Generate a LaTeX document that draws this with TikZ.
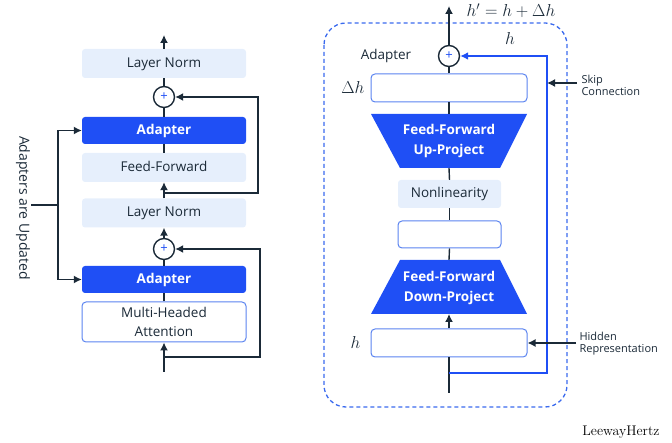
\documentclass[tikz,border=0pt]{standalone}
\usepackage{fontspec}
\setsansfont{Open Sans}
\usetikzlibrary{arrows.meta,positioning}
\definecolor{dark}{HTML}{1B2A38}
\definecolor{bblue}{HTML}{1F4FF5}
\definecolor{lblue}{HTML}{E6EFFC}
\definecolor{bord}{HTML}{5B84F0}
\definecolor{dashc}{HTML}{3A6AEE}
\tikzset{
  conn/.style={draw=dark, line width=1.4pt},
  arr/.style={conn, -{Latex[length=8pt,width=8pt]}},
  barr/.style={draw=bblue, line width=1.6pt, -{Latex[length=8pt,width=8pt]}},
  lightbox/.style={fill=lblue, draw=none, rounded corners=3pt, minimum width=164pt, minimum height=29pt, inner sep=0pt, text height=10pt, text depth=2.5pt, font=\sffamily\fontsize{13.5}{19}\selectfont, text=dark},
  adaptbox/.style={fill=bblue, draw=none, rounded corners=3pt, minimum width=164pt, minimum height=27pt, inner sep=0pt, text height=10pt, text depth=2.5pt, font=\sffamily\bfseries\fontsize{13.5}{19}\selectfont, text=white},
  whitebox/.style={fill=white, draw=bord, line width=1pt, rounded corners=4pt, inner sep=0pt, font=\sffamily\fontsize{13.5}{19}\selectfont, text=dark, align=center},
  plus/.style={circle, draw=dark, line width=1.4pt, fill=white, minimum size=21pt, inner sep=0pt, font=\sffamily\fontsize{13}{13}\selectfont, text=bblue},
  traptext/.style={font=\sffamily\bfseries\fontsize{13.5}{20}\selectfont, text=white, align=center},
  smalllab/.style={font=\sffamily\fontsize{11}{12}\selectfont, text=dark, align=left, anchor=west},
  mlab/.style={font=\fontsize{16.5}{18}\selectfont, text=dark}
}
\begin{document}
\begin{tikzpicture}[x=1pt,y=-1pt]
\useasboundingbox (0,0) rectangle (672,443);
% ---------- left column ----------
\node[lightbox] (ln1) at (164,63.5) {Layer Norm};
\node[plus] (p1) at (164,97) {+};
\node[adaptbox] (ad1) at (164,130.5) {Adapter};
\node[lightbox] (ff) at (164,167.5) {Feed-Forward};
\node[lightbox] (ln2) at (164,213) {Layer Norm};
\node[plus] (p2) at (164,249) {+};
\node[adaptbox] (ad2) at (164,279.5) {Adapter};
\node[whitebox, minimum width=164pt, minimum height=40pt] (mha) at (164,322) {Multi-Headed\\Attention};
\coordinate (top1) at (164,35);
\coordinate (in1) at (164,372);
\coordinate (br1) at (164,193);
\coordinate (br2) at (164,357);
\draw[arr] (ln1.north) -- (top1);
\draw[conn] (p1.north) -- (ln1.south);
\draw[conn] (ad1.north) -- (p1.south);
\draw[conn] (ff.north) -- (ad1.south);
\draw[arr] (ln2.north) -- (ff.south);
\draw[arr] (p2.north) -- (ln2.south);
\draw[conn] (ad2.north) -- (p2.south);
\draw[conn] (mha.north) -- (ad2.south);
\draw[arr] (in1) -- (mha.south);
\draw[arr] (br1) -| (258,97) -- (p1.east);
\draw[arr] (br2) -| (260,249) -- (p2.east);
% side label
\node[rotate=-90, font=\sffamily\fontsize{14}{16}\selectfont, text=dark] (upd) at (23,208) {Adapters are Updated};
\coordinate (bk) at (58,205);
\draw[conn] (31,205) -- (bk);
\draw[arr] (bk) |- (ad1.west);
\draw[arr] (bk) |- (ad2.west);
% ---------- right column ----------
\draw[dashc, line width=1.3pt, dash pattern=on 4pt off 3pt, rounded corners=22pt] (324,23) rectangle (567,407);
\node[plus] (p3) at (449,56) {+};
\node[whitebox, minimum width=156pt, minimum height=28pt] (dh) at (449,88) {};
% up-project trapezoid
\coordinate (upT) at (449,114);
\coordinate (upB) at (449,168);
\fill[bblue] (371,114) -- (527,114) -- (500,168) -- (400,168) -- cycle;
\node[traptext] (up) at (449,141) {Feed-Forward\\Up-Project};
\node[lightbox, minimum width=103pt, minimum height=28pt] (nl) at (449.5,194) {Nonlinearity};
\node[whitebox, minimum width=103pt, minimum height=27pt] (eb) at (449.5,234.5) {};
% down-project trapezoid
\coordinate (dnT) at (449,260);
\coordinate (dnB) at (449,314);
\fill[bblue] (400,260) -- (500,260) -- (527,314) -- (371,314) -- cycle;
\node[traptext] (down) at (449,288) {Feed-Forward\\Down-Project};
\node[whitebox, minimum width=156pt, minimum height=28pt] (hb) at (449,343) {};
\coordinate (top2) at (449,6);
\coordinate (in2) at (449,393);
\coordinate (br3) at (449,373);
\draw[arr] (p3.north) -- (top2);
\draw[conn] (dh.north) -- (p3.south);
\draw[conn] (upT) -- (dh.south);
\draw[conn] (upB) -- (nl.north);
\draw[conn] (nl.south) -- (eb.north);
\draw[conn] (eb.south) -- (dnT);
\draw[arr] (hb.north) -- (dnB);
\draw[conn] (in2) -- (hb.south);
\draw[barr] (br3) -| (547,56) -- (p3.east);
% labels
\node[font=\sffamily\fontsize{13.5}{16}\selectfont, text=dark] (adl) at (386,56) {Adapter};
\node[mlab] (hp) at (511,11) {$h' = h + \Delta h$};
\node[mlab] (hl) at (510,39) {$h$};
\node[mlab, anchor=east] (dhl) at (368,88) {$\Delta h$};
\node[mlab, anchor=east] (hhl) at (364,343) {$h$};
\coordinate (sk) at (547,83);
\draw[arr] (577,83) -- (sk);
\node[smalllab] (skl) at (578,85) {Skip\\Connection};
\draw[arr] (576,343) -- (hb.east);
\node[smalllab] (hrl) at (576,344) {Hidden\\Representation};
\node[font=\fontsize{14}{16}\selectfont, text=black, anchor=east] (lw) at (663,432) {LeewayHertz};
\end{tikzpicture}
\end{document}
